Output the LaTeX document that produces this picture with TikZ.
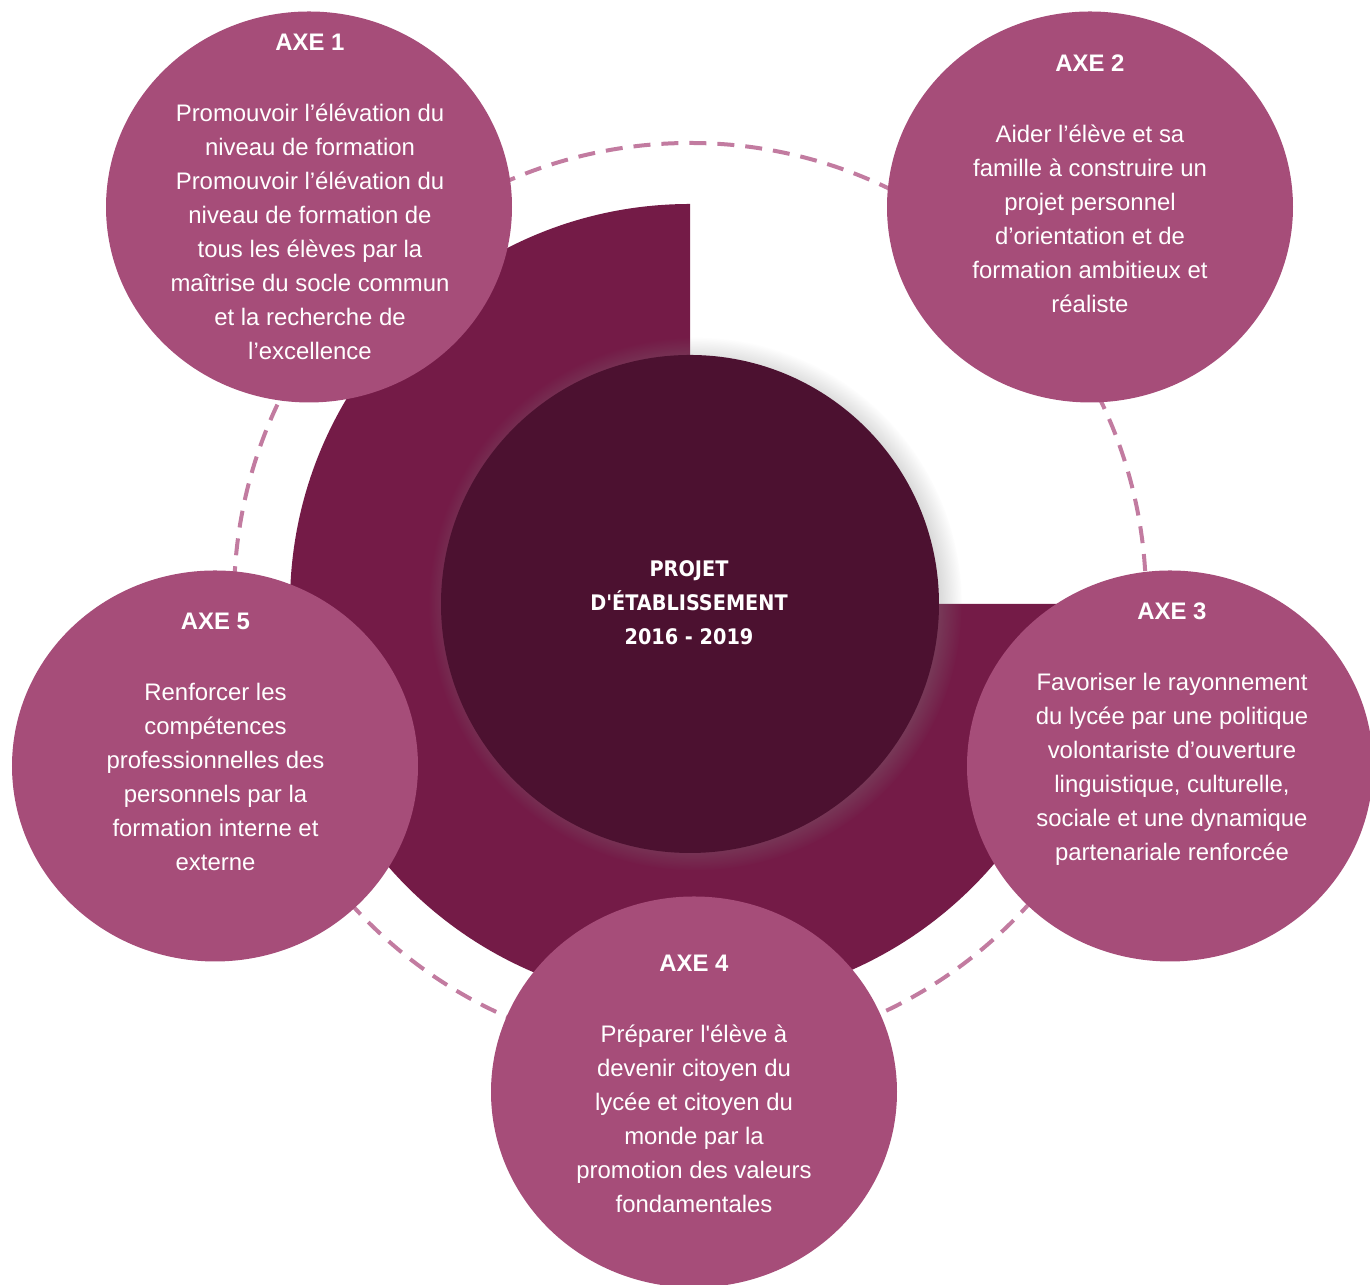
\documentclass[tikz,border=0pt]{standalone}
\usepackage{fontspec}
\setmainfont{Liberation Sans}
\newfontfamily\corefont{DejaVu Sans Condensed}
\usetikzlibrary{shapes.geometric,shadows}

\definecolor{axepink}{HTML}{A64D79}
\definecolor{piedark}{HTML}{741B47}
\definecolor{coredark}{HTML}{4C1130}
\definecolor{ringpink}{HTML}{C27BA0}

\begin{document}
\begin{tikzpicture}[
  axe/.style={ellipse,fill=axepink,minimum width=4.06cm,minimum height=3.91cm,inner sep=0pt,outer sep=0pt},
  axetext/.style={anchor=north,align=center,text=white,inner sep=0pt,font=\fontsize{6.8}{9.67}\selectfont},
  ring/.style={draw=ringpink,line width=0.04cm,dash pattern=on 0.17cm off 0.11cm}
]

\useasboundingbox (0,0) rectangle (13.7,12.85);

\draw[ring] (6.90,6.86) circle (4.56);

\coordinate (mid) at (6.90,6.81);
\fill[piedark] (mid) -- ++(0,4) arc (90:360:4) -- cycle;

\node[circle,fill=coredark,minimum size=4.98cm,inner sep=0pt,
  circular drop shadow={shadow xshift=0.05cm,shadow yshift=0cm,shadow scale=1.07,opacity=0.5}] (core) at (mid) {};
\node[anchor=north,align=center,text=white,inner sep=0pt,
  font=\corefont\bfseries\fontsize{6.1}{9.67}\selectfont] (title) at (6.89,7.25)
  {PROJET\\D\textquotesingle ÉTABLISSEMENT\\2016 - 2019};

% axes
\node[axe] (axe1) at (3.09,10.78) {};
\node[axe] (axe2) at (10.90,10.78) {};
\node[axe] (axe3) at (11.70,5.19) {};
\node[axe] (axe4) at (6.94,1.93) {};
\node[axe] (axe5) at (2.15,5.19) {};

\node[axetext] (txt1) at (3.10,12.515) {\textbf{AXE 1}\\[10.4pt]
  Promouvoir l’élévation du\\niveau de formation\\Promouvoir l’élévation du\\niveau de formation de\\
  tous les élèves par la\\maîtrise du socle commun\\et la recherche de\\l’excellence};
\node[axetext] (txt2) at (10.90,12.305) {\textbf{AXE 2}\\[10.4pt]
  Aider l’élève et sa\\famille à construire un\\projet personnel\\d’orientation et de\\
  formation ambitieux et\\réaliste};
\node[axetext] (txt3) at (11.72,6.825) {\textbf{AXE 3}\\[10.4pt]
  Favoriser le rayonnement\\du lycée par une politique\\volontariste d’ouverture\\
  linguistique, culturelle,\\sociale et une dynamique\\partenariale renforcée};
\node[axetext] (txt4) at (6.94,3.305) {\textbf{AXE 4}\\[10.4pt]
  Préparer l\textquotesingle élève à\\devenir citoyen du\\lycée et citoyen du\\monde par la\\
  promotion des valeurs\\fondamentales};
\node[axetext] (txt5) at (2.155,6.725) {\textbf{AXE 5}\\[10.4pt]
  Renforcer les\\compétences\\professionnelles des\\personnels par la\\
  formation interne et\\externe};

\end{tikzpicture}
\end{document}
